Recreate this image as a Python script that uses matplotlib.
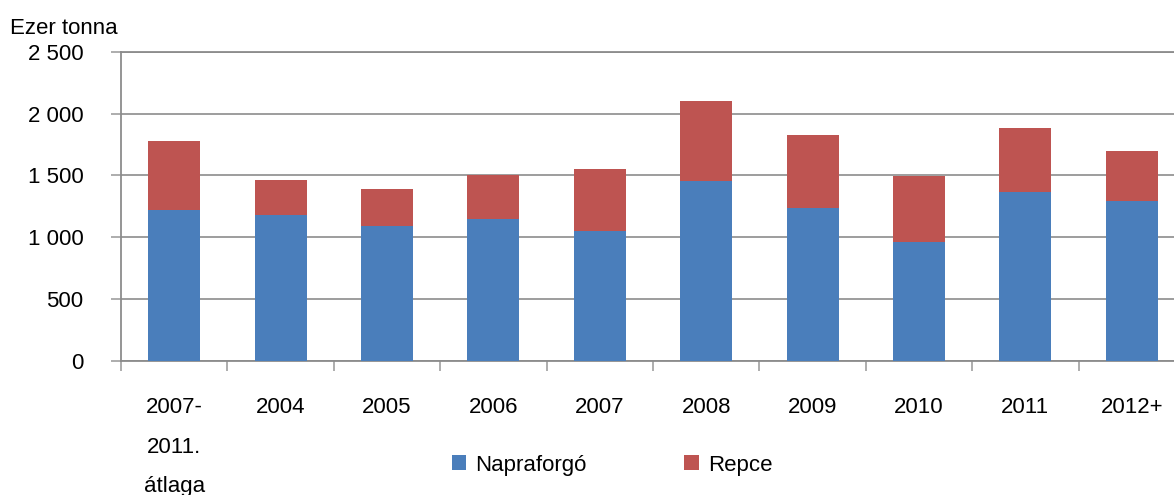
import matplotlib
matplotlib.use("Agg")
import matplotlib.pyplot as plt
from matplotlib.patches import Patch
import numpy as np

categories = ["2007-\n2011.\nátlaga", "2004", "2005", "2006", "2007", "2008",
              "2009", "2010", "2011", "2012+"]
napraforgo = [1222, 1179, 1092, 1149, 1052, 1456, 1240, 965, 1370, 1294]
repce = [558, 285, 300, 356, 501, 648, 588, 532, 515, 405]
yticks = [0, 500, 1000, 1500, 2000, 2500]
ytick_labels = ["0", "500", "1 000", "1 500", "2 000", "2 500"]
series_names = ["Napraforgó", "Repce"]
colors = ["#4A7EBB", "#BE5451"]

plt.rcParams['font.family'] = ['Liberation Sans', 'DejaVu Sans']
FS = 16

fig = plt.figure(figsize=(11.74, 4.95), dpi=100)
ax = fig.add_axes([121/1174, 134/495, 1064/1174, 309.3/495])

x = np.arange(len(categories))
ax.bar(x, napraforgo, width=0.49, color=colors[0], zorder=3)
ax.bar(x, repce, width=0.49, bottom=napraforgo, color=colors[1], zorder=3)

ax.set_xlim(-0.5, len(categories) - 0.5)
ax.set_ylim(0, 2500)
ax.set_yticks(yticks)
ax.set_yticklabels(ytick_labels, fontsize=FS)
ax.yaxis.grid(True, color="#8C8C8C", linewidth=1.2, zorder=0)

ax.set_xticks(x)
ax.set_xticklabels(categories, fontsize=FS, linespacing=2.15, va="top")
ax.set_xticks(np.arange(-0.5, len(categories), 1.0), minor=True)
ax.tick_params(axis="x", which="major", length=0, pad=26)
ax.tick_params(axis="x", which="minor", length=7, color="#A0A0A0", width=1.2)
ax.tick_params(axis="y", length=7, color="#A0A0A0", width=1.2, pad=20)

for s in ["left", "bottom", "top"]:
    ax.spines[s].set_color("#8C8C8C")
    ax.spines[s].set_linewidth(1.3)
ax.spines["right"].set_visible(False)

fig.text(10/1174, 1 - 28/495, "Ezer tonna", fontsize=FS, ha="left", va="center")

handles = [Patch(facecolor=c, edgecolor="none") for c in colors]
fig.legend(handles, series_names, loc="center", bbox_to_anchor=(612/1174, 1 - 465/495),
           ncol=2, frameon=False, fontsize=FS, handlelength=0.65, handleheight=0.65,
           handletextpad=0.4, columnspacing=4.4)

fig.savefig("out.png", dpi=100)
